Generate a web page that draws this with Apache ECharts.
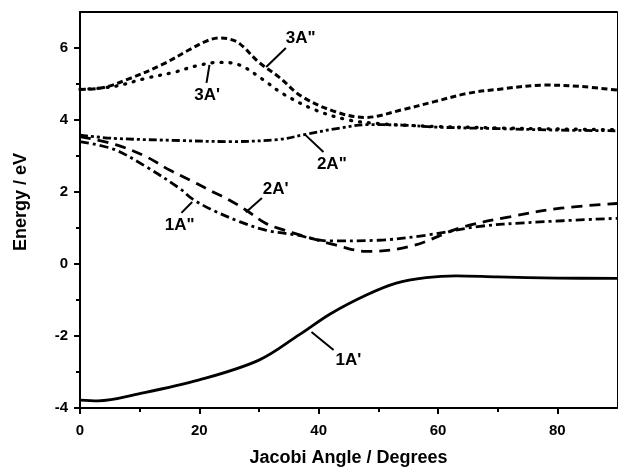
<!DOCTYPE html>
<html><head><meta charset="utf-8">
<script src="https://cdn.jsdelivr.net/npm/echarts@6/dist/echarts.min.js"></script>
<style>html,body{margin:0;padding:0;background:#fff}#c{width:618px;height:468px}</style>
</head><body><div id="c"></div>
<script>
// ---- tick values ----
const xTicks = [0, 20, 40, 60, 80];
const xMinorTicks = [10, 30, 50, 70];
const yTicks = [-4, -2, 0, 2, 4, 6];
const yMinorTicks = [-3, -1, 1, 3, 5];

// ---- curves (angle in degrees, energy in eV) ----
const angle1Ap  = [0, 3, 10, 20, 30, 36.7, 42, 48, 53, 58, 63, 70, 80, 90];
const energy1Ap = [-3.78, -3.80, -3.60, -3.22, -2.67, -1.97, -1.38, -0.86, -0.53, -0.38, -0.33, -0.36, -0.39, -0.40];

const angle2Ap  = [0, 6.1, 11.1, 15, 18.9, 22.2, 25, 27.8, 31.1, 33.3, 37.8, 42.8, 48, 55.6, 64, 72, 80.6, 90];
const energy2Ap = [3.54, 3.31, 2.98, 2.61, 2.29, 2.01, 1.78, 1.50, 1.13, 0.99, 0.76, 0.53, 0.35, 0.50, 1.02, 1.31, 1.55, 1.68];

const angle1App  = [0, 5.6, 11.1, 16.7, 18.9, 22.2, 26.7, 31.1, 36.1, 41.7, 50, 58, 66.7, 75, 90];
const energy1App = [3.40, 3.19, 2.70, 2.10, 1.80, 1.50, 1.18, 0.94, 0.81, 0.64, 0.66, 0.80, 1.04, 1.15, 1.27];

const angle2App  = [0, 5.6, 16.7, 25, 33.3, 37.8, 43.3, 48, 54, 60, 70, 80, 90];
const energy2App = [3.58, 3.49, 3.43, 3.40, 3.46, 3.60, 3.77, 3.87, 3.86, 3.80, 3.76, 3.72, 3.70];

const angle3Ap  = [0, 5.6, 11.1, 16.1, 19.4, 23.3, 26.7, 30.6, 33.9, 39.4, 45, 50, 55, 60, 70, 80, 90];
const energy3Ap = [4.85, 4.93, 5.16, 5.34, 5.50, 5.60, 5.53, 5.13, 4.74, 4.28, 4.00, 3.90, 3.85, 3.82, 3.78, 3.75, 3.73];

const angle3App  = [0, 3.3, 8.3, 13.9, 18.3, 21, 23.3, 25, 26.7, 30, 33.3, 37.2, 42.8, 47.8, 53.9, 59.4, 65, 70, 78, 84, 90];
const energy3App = [4.85, 4.88, 5.15, 5.55, 5.95, 6.18, 6.28, 6.25, 6.13, 5.60, 5.20, 4.65, 4.23, 4.07, 4.28, 4.51, 4.74, 4.85, 4.97, 4.93, 4.83];

// ---- state labels and pointer lines (data coordinates) ----
const stateNames = ["1A'", "2A'", '1A"', '2A"', "3A'", '3A"'];
const labelAt    = [[45, -2.67], [32.8, 2.08], [16.7, 1.08], [42.2, 2.78], [21.3, 4.69], [37, 6.28]];
const pointerFrom = [[42.5, -2.39], [30.5, 1.83], [17.0, 1.42], [40.8, 3.11], [21.2, 5.03], [34.5, 6.0]];
const pointerTo   = [[38.8, -1.89], [27.8, 1.44], [18.8, 1.72], [37.8, 3.58], [21.7, 5.53], [31.2, 5.47]];

const angles = [angle1Ap, angle2Ap, angle1App, angle2App, angle3Ap, angle3App];
const energies = [energy1Ap, energy2Ap, energy1App, energy2App, energy3Ap, energy3App];
const dashTypes = ['solid', [11, 7], [9, 4, 3, 4], [8, 3, 3, 3, 3, 3], [1, 8], [6, 3.5]];
const caps = ['butt', 'butt', 'butt', 'butt', 'round', 'butt'];
const widths = [2.8, 2.8, 2.8, 2.8, 3.3, 3.0];

const font = 'Liberation Sans, Arial, sans-serif';
const chart = echarts.init(document.getElementById('c'), null, {renderer: 'canvas'});

const series = stateNames.map((nm, i) => ({
  type: 'line',
  name: nm,
  xAxisIndex: 0, yAxisIndex: 0,
  data: angles[i].map((a, k) => [a, energies[i][k]]),
  smooth: 0.35,
  showSymbol: false,
  symbol: 'none',
  lineStyle: {color: '#000', width: widths[i], type: dashTypes[i], cap: caps[i]},
  markLine: {
    silent: true, symbol: ['none', 'none'], animation: false,
    label: {show: false},
    lineStyle: {type: 'solid', color: '#000', width: 2},
    data: [[{coord: pointerFrom[i]}, {coord: pointerTo[i]}]]
  },
  markPoint: {
    silent: true, animation: false,
    symbol: 'circle', symbolSize: 1,
    itemStyle: {color: 'rgba(0,0,0,0)'},
    label: {show: true, position: 'inside', formatter: nm, color: '#000',
            fontWeight: 'bold', fontSize: 17, fontFamily: font},
    data: [{coord: labelAt[i]}]
  }
}));

const labelStyle = {color: '#000', fontWeight: 'bold', fontSize: 15, fontFamily: font};
const noZero = {onZero: false};

chart.setOption({
  animation: false,
  backgroundColor: '#fff',
  grid: {left: 80, right: 1, top: 12, bottom: 60, containLabel: false, outerBoundsMode: 'none'},
  xAxis: [
    {type: 'value', position: 'bottom', min: 0, max: 90,
     name: 'Jacobi Angle / Degrees', nameLocation: 'middle', nameGap: 41,
     nameTextStyle: {color: '#000', fontWeight: 'bold', fontSize: 18, fontFamily: font},
     axisLine: {show: true, ...noZero, lineStyle: {color: '#000', width: 2}},
     axisTick: {show: true, inside: false, length: 6, customValues: xTicks, lineStyle: {color: '#000', width: 2}},
     axisLabel: {show: true, customValues: xTicks, margin: 15, ...labelStyle},
     splitLine: {show: false}},
    {type: 'value', position: 'bottom', min: 0, max: 90,
     axisLine: {show: false, ...noZero},
     axisTick: {show: true, inside: false, length: 4, customValues: xMinorTicks, lineStyle: {color: '#000', width: 2}},
     axisLabel: {show: false}, splitLine: {show: false}},
    {type: 'value', position: 'top', min: 0, max: 90,
     axisLine: {show: true, ...noZero, lineStyle: {color: '#000', width: 2}},
     axisTick: {show: false}, axisLabel: {show: false}, splitLine: {show: false}}
  ],
  yAxis: [
    {type: 'value', position: 'left', min: -4, max: 7,
     name: 'Energy / eV', nameLocation: 'middle', nameGap: 50,
     nameTextStyle: {color: '#000', fontWeight: 'bold', fontSize: 18, fontFamily: font, padding: [0, 0, 0, 16]},
     axisLine: {show: true, ...noZero, lineStyle: {color: '#000', width: 2}},
     axisTick: {show: true, inside: false, length: 6, customValues: yTicks, lineStyle: {color: '#000', width: 2}},
     axisLabel: {show: true, customValues: yTicks, margin: 12, ...labelStyle},
     splitLine: {show: false}},
    {type: 'value', position: 'left', min: -4, max: 7,
     axisLine: {show: false, ...noZero},
     axisTick: {show: true, inside: false, length: 4, customValues: yMinorTicks, lineStyle: {color: '#000', width: 2}},
     axisLabel: {show: false}, splitLine: {show: false}},
    {type: 'value', position: 'right', min: -4, max: 7,
     axisLine: {show: true, ...noZero, lineStyle: {color: '#000', width: 1}},
     axisTick: {show: false}, axisLabel: {show: false}, splitLine: {show: false}}
  ],
  series: series
});
</script>
</body></html>
